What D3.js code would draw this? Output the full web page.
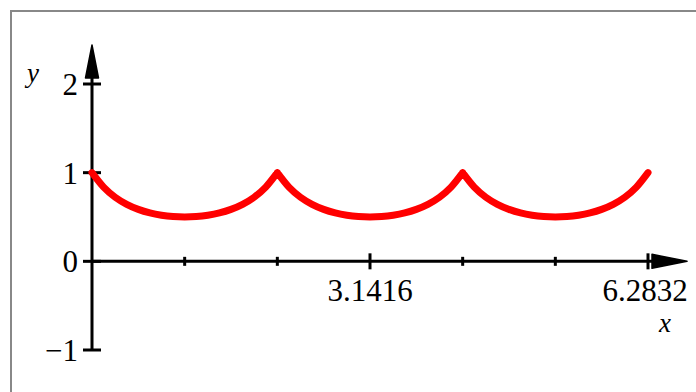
<!DOCTYPE html>
<html>
<head>
<meta charset="utf-8">
<script src="https://cdn.jsdelivr.net/npm/d3@7"></script>
<style>
  body { margin: 0; background: #fff; }
  text { font-family: "Liberation Serif", "Times New Roman", serif; fill: #000; }
</style>
</head>
<body>
<svg id="chart" width="696" height="392"></svg>
<script>
/* ---------- data ---------- */

var xValues = [0, 0.1309, 0.2618, 0.3927, 0.5236, 0.6545, 0.7854, 0.9163, 1.0472,
  1.1781, 1.3090, 1.4399, 1.5708, 1.7017, 1.8326, 1.9635, 2.0944,
  2.2253, 2.3562, 2.4871, 2.6180, 2.7489, 2.8798, 3.0107, 3.1416,
  3.2725, 3.4034, 3.5343, 3.6652, 3.7961, 3.9270, 4.0579, 4.1888,
  4.3197, 4.4506, 4.5815, 4.7124, 4.8433, 4.9742, 5.1051, 5.2360,
  5.3669, 5.4978, 5.6287, 5.7596, 5.8905, 6.0214, 6.1523, 6.2832];

var yValues = [1, 0.837, 0.723, 0.643, 0.586, 0.546, 0.520, 0.505, 0.500,
  0.505, 0.520, 0.546, 0.586, 0.643, 0.723, 0.837, 1,
  0.837, 0.723, 0.643, 0.586, 0.546, 0.520, 0.505, 0.500,
  0.505, 0.520, 0.546, 0.586, 0.643, 0.723, 0.837, 1,
  0.837, 0.723, 0.643, 0.586, 0.546, 0.520, 0.505, 0.500,
  0.505, 0.520, 0.546, 0.586, 0.643, 0.723, 0.837, 1];

var xTicks = [1.0472, 2.0944, 3.1416, 4.1888, 5.2360, 6.2832];
var xTickLabels = ["", "", "3.1416", "", "", "6.2832"];
var yTicks = [-1, 0, 1, 2];
var yTickLabels = ["\u22121", "0", "1", "2"];

/* ---------- setup ---------- */

var svg = d3.select("#chart");

var x = d3.scaleLinear().domain([0, 6.2832]).range([92, 648]);
var y = d3.scaleLinear().domain([-1, 2]).range([350, 84]);

// frame
svg.append("path")
    .attr("d", "M11,392 L11,11 L696,11")
    .attr("fill", "none")
    .attr("stroke", "#888")
    .attr("stroke-width", 2);

var axisColor = "#000";

/* ---------- y axis ---------- */

svg.append("line")
    .attr("x1", x(0)).attr("x2", x(0))
    .attr("y1", y(-1)).attr("y2", 70)
    .attr("stroke", axisColor).attr("stroke-width", 3);

svg.append("path")
    .attr("d", "M" + (x(0) - 6.5) + ",78 L" + x(0) + ",45 L" + (x(0) + 6.5) + ",78 Z")
    .attr("fill", axisColor)
    .attr("stroke", axisColor).attr("stroke-width", 1.5).attr("stroke-linejoin", "round");

svg.selectAll(".ytick")
    .data(yTicks)
  .enter().append("line")
    .attr("class", "ytick")
    .attr("x1", x(0) - 9).attr("x2", x(0) + 9)
    .attr("y1", function(d) { return y(d); })
    .attr("y2", function(d) { return y(d); })
    .attr("stroke", axisColor).attr("stroke-width", 3);

svg.selectAll(".ylabel")
    .data(yTicks)
  .enter().append("text")
    .attr("class", "ylabel")
    .attr("x", 78)
    .attr("y", function(d) { return y(d) + 11; })
    .attr("text-anchor", "end")
    .attr("font-size", 31)
    .text(function(d, i) { return yTickLabels[i]; });

svg.append("text")
    .attr("x", 33).attr("y", 82)
    .attr("text-anchor", "middle")
    .attr("font-size", 27)
    .attr("font-style", "italic")
    .text("y");

/* ---------- x axis ---------- */

svg.append("line")
    .attr("x1", x(0)).attr("x2", 660)
    .attr("y1", y(0)).attr("y2", y(0))
    .attr("stroke", axisColor).attr("stroke-width", 3);

svg.append("path")
    .attr("d", "M652," + (y(0) - 7) + " L687," + y(0) + " L652," + (y(0) + 7) + " Z")
    .attr("fill", axisColor)
    .attr("stroke", axisColor).attr("stroke-width", 1.5).attr("stroke-linejoin", "round");

svg.selectAll(".xtick")
    .data(xTicks)
  .enter().append("line")
    .attr("class", "xtick")
    .attr("x1", function(d) { return x(d); })
    .attr("x2", function(d) { return x(d); })
    .attr("y1", function(d, i) { return y(0) - (xTickLabels[i] ? 8 : 4.5); })
    .attr("y2", function(d, i) { return y(0) + (xTickLabels[i] ? 8 : 4.5); })
    .attr("stroke", axisColor).attr("stroke-width", 3);

svg.selectAll(".xlabel")
    .data(xTicks)
  .enter().append("text")
    .attr("class", "xlabel")
    .attr("x", function(d) { return x(d) - (d > 6 ? 3 : 0); })
    .attr("y", 301)
    .attr("text-anchor", "middle")
    .attr("font-size", 31)
    .text(function(d, i) { return xTickLabels[i]; });

svg.append("text")
    .attr("x", 665).attr("y", 332)
    .attr("text-anchor", "middle")
    .attr("font-size", 27)
    .attr("font-style", "italic")
    .text("x");

/* ---------- curve: split at the cusps so each arch keeps its sharp point ---------- */

var points = xValues.map(function(d, i) { return [d, yValues[i]]; });
var arches = [], current = [points[0]];
for (var i = 1; i < points.length; i++) {
    current.push(points[i]);
    if (i < points.length - 1 && yValues[i] > yValues[i - 1] && yValues[i] > yValues[i + 1]) {
        arches.push(current);
        current = [points[i]];
    }
}
arches.push(current);

var line = d3.line()
    .x(function(d) { return x(d[0]); })
    .y(function(d) { return y(d[1]); })
    .curve(d3.curveMonotoneX);

svg.append("path")
    .attr("d", arches.map(function(a) { return line(a); }).join(""))
    .attr("fill", "none")
    .attr("stroke", "#ff0000")
    .attr("stroke-width", 7)
    .attr("stroke-linecap", "round")
    .attr("stroke-linejoin", "miter");
</script>
</body>
</html>
